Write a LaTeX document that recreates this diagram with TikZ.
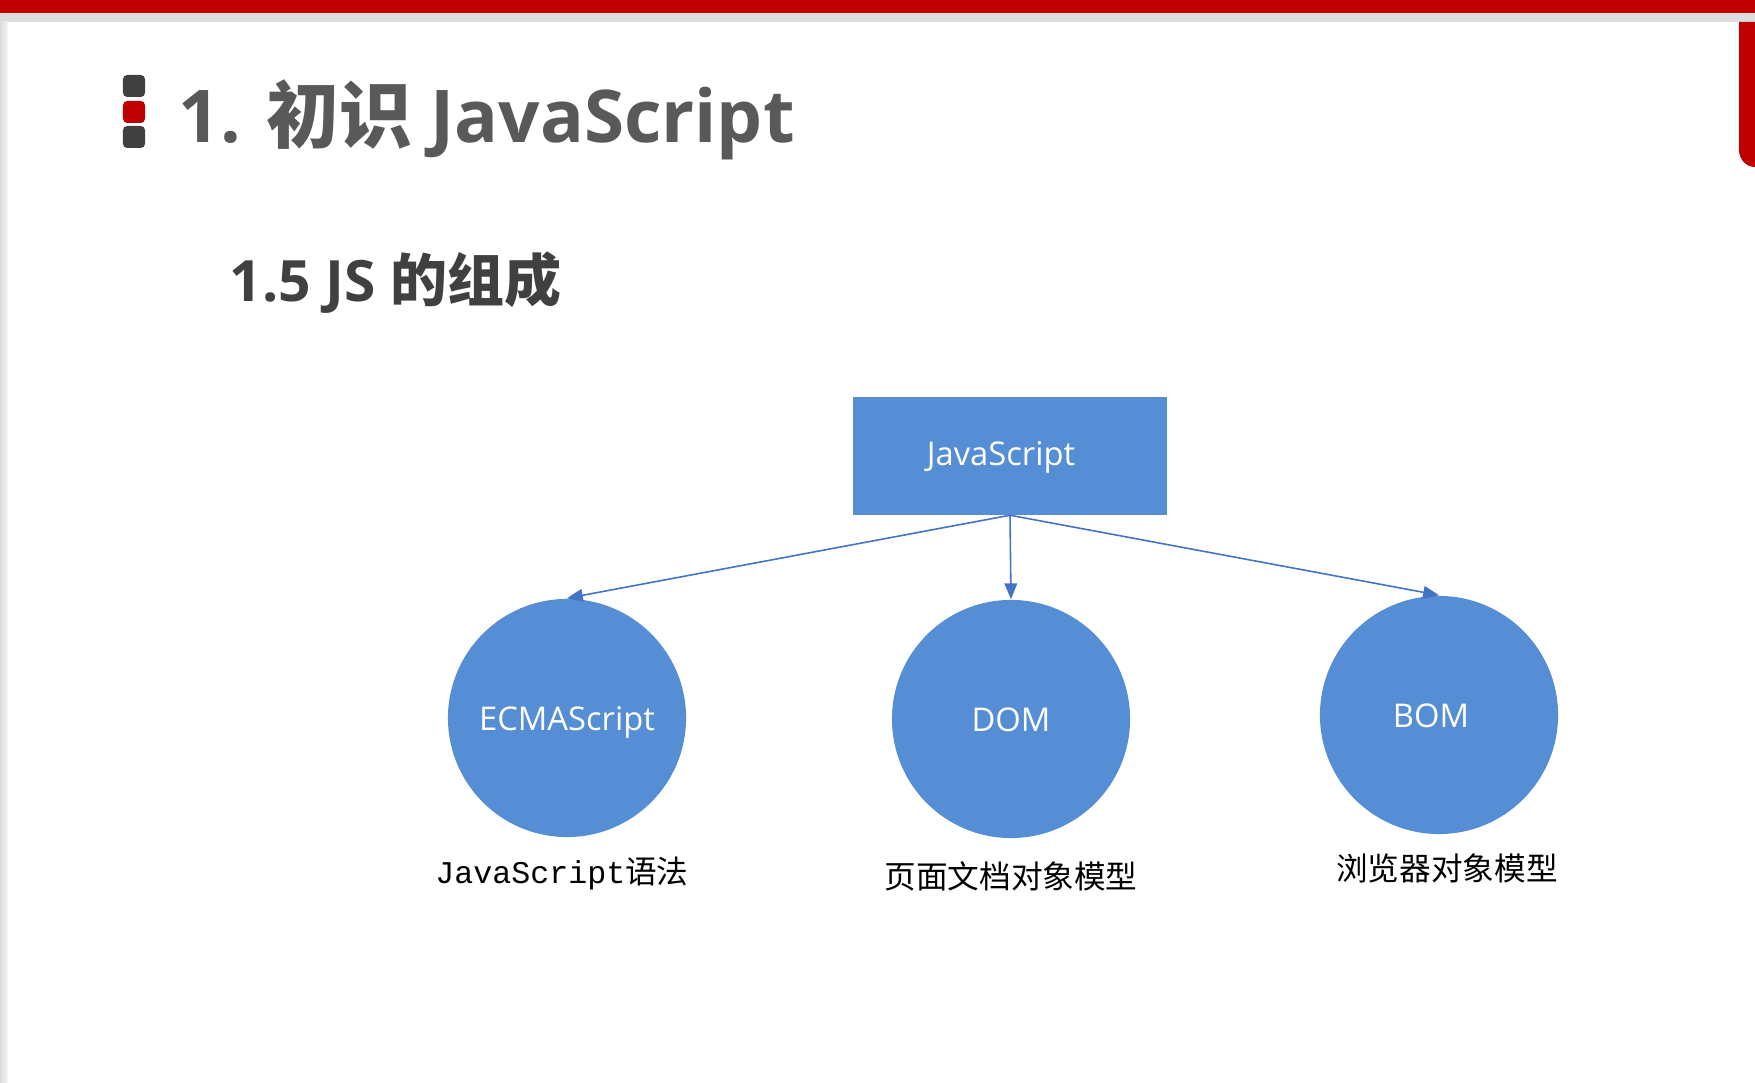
\documentclass[tikz,border=0pt]{standalone}
\usepackage{fontspec}
\setmainfont{Open Sans}
\setmonofont{Liberation Mono}
\newfontfamily\cjk{Noto Sans CJK SC}
\usetikzlibrary{arrows.meta, positioning}

\definecolor{jsblue}{HTML}{558ED5}
\definecolor{arrowblue}{HTML}{4472C4}
\definecolor{slidered}{HTML}{C00000}
\definecolor{titlegray}{HTML}{595959}
\definecolor{darkgray}{HTML}{404040}
\definecolor{bandgray}{HTML}{DCDDDE}

\begin{document}
\begin{tikzpicture}[
            x=0.01cm, y=-0.01cm,
            node distance=0.18cm,
            box/.style={rectangle, fill=jsblue, minimum width=3.14cm, minimum height=1.17cm, text=white, font=\fontsize{9.3}{11}\selectfont},
            part/.style={circle, fill=jsblue, minimum size=2.38cm, text=white, text height=1.45ex, text depth=0.1ex, font=\fontsize{9.3}{11}\selectfont},
            note/.style={inner sep=0pt, font=\fontsize{9}{11}\selectfont\cjk},
            line/.style={draw=arrowblue, line width=0.45pt, -{Triangle[length=4.5pt,width=3.6pt]}},
            bullet/.style={rectangle, rounded corners=1.2pt, minimum width=0.22cm, minimum height=0.22cm, inner sep=0pt}
        ]
            % Slide frame
            \useasboundingbox (0,0) rectangle (1755,1083);
            \fill[white] (0,0) rectangle (1755,1083);
            \fill[bandgray] (0,13) rectangle (1755,22);
            \fill[slidered] (0,0) rectangle (1755,13);
            \shade[left color=gray!28, right color=gray!8] (0,22) rectangle (8,1083);
            \fill[slidered] (1755,22) -- (1739,22) -- (1739,150) to[out=-90,in=180] (1755,167) -- cycle;

            % Heading
            \node [bullet, fill=darkgray] (b1) at (134,86) {};
            \node [bullet, fill=slidered] (b2) at (134,112) {};
            \node [bullet, fill=darkgray] (b3) at (134,137) {};
            \node [anchor=base west, inner sep=0pt, text=titlegray, font=\fontsize{20.7}{25}\selectfont\bfseries] (title) at (178,143) {1. {\cjk 初识} JavaScript};
            \node [anchor=base west, inner sep=0pt, text=darkgray, font=\fontsize{16.2}{20}\selectfont\bfseries] (sub) at (229,302) {1.5 JS {\cjk 的组成}};

            % Nodes
            \node [box] (js) at (1010,456) {};
            \node [font=\fontsize{9.3}{11}\selectfont, text=white] (jstext) at (1001,457) {JavaScript};
            \node [part] (ecma) at (567,718) {ECMAScript};
            \node [part] (dom) at (1011,719) {DOM};
            \node [part] (bom) at (1439,715) {};
            \node [font=\fontsize{9.3}{11}\selectfont, text=white] (bomtext) at (1431,716) {BOM};

            % Captions
            \node [note, below=of ecma, xshift=-0.05cm] (ecmanote) {\texttt{JavaScript}语法};
            \node [note, below=0.22cm of dom] (domnote) {页面文档对象模型};
            \node [note, below=of bom, xshift=0.08cm] (bomnote) {浏览器对象模型};

            % Edges
            \path [line] (js.south) -- (ecma.north);
            \path [line] (js.south) -- (dom.north);
            \path [line] (js.south) -- (bom.north);
        \end{tikzpicture}
\end{document}
